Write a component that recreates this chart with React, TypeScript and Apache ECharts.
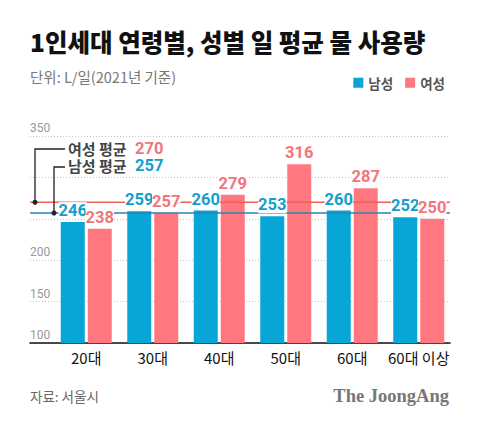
import React, { useEffect, useRef } from "react";
import * as echarts from "echarts";

const categories = ["20대", "30대", "40대", "50대", "60대", "60대 이상"];
const maleValues = [246, 259, 260, 253, 260, 252];
const femaleValues = [238, 257, 279, 316, 287, 250];
const maleAvg = 257;
const femaleAvg = 270;
const yMin = 100;
const yMax = 350;
const yInterval = 50;
const hiddenTickLabels = [250, 300];

const BLUE = "#07a6d6";
const PINK = "#ff7880";
const BLUE_TEXT = "#139fcc";
const PINK_TEXT = "#f2757d";
const RED_LINE = "#f0605a";
const BLUE_LINE = "#2a84ad";
const FONT = "Roboto, 'Noto Sans CJK KR', sans-serif";
const KFONT = "'Noto Sans CJK KR', Roboto, sans-serif";

export default function App() {
  const ref = useRef<HTMLDivElement>(null);
  useEffect(() => {
    if (!ref.current) return;
    const chart = echarts.init(ref.current, null, { renderer: "svg" });
    const labelCommon = {
      show: true,
      position: "top",
      distance: 3,
      fontFamily: FONT,
      fontWeight: "bold",
      fontSize: 16.5,
      lineHeight: 17,
      backgroundColor: "#fff",
      padding: [0, 0, 0, 0],
    };
    const option: any = {
      animation: false,
      backgroundColor: "#fff",
      legend: {
        data: ["남성", "여성"],
        right: 30,
        top: 71,
        icon: "rect",
        itemWidth: 10,
        itemHeight: 10,
        itemGap: 12,
        textStyle: { fontFamily: KFONT, fontSize: 13.5, fontWeight: "bold", color: "#555" },
        selectedMode: false,
      },
      grid: [
        { left: 53, right: 28, top: 136, bottom: 82 },
        { left: 30, right: 30, top: 136, bottom: 82 },
      ],
      xAxis: [
        {
          type: "category",
          data: categories,
          gridIndex: 0,
          axisLine: { show: false },
          axisTick: { show: false },
          axisLabel: { interval: 0, color: "#111", fontSize: 15, fontFamily: KFONT, margin: 7 },
        },
        {
          type: "category",
          data: categories,
          gridIndex: 0,
          show: false,
        },
        {
          type: "value",
          gridIndex: 1,
          min: 0,
          max: 1,
          axisLine: { show: true, onZero: false, lineStyle: { color: "#111", width: 1.5 } },
          axisTick: { show: false },
          axisLabel: { show: false },
          splitLine: { show: false },
        },
      ],
      yAxis: [
        { type: "value", gridIndex: 0, min: yMin, max: yMax, interval: yInterval, show: false },
        {
          type: "value",
          gridIndex: 1,
          min: yMin,
          max: yMax,
          interval: yInterval,
          axisLine: { show: false },
          axisTick: { show: false },
          axisLabel: {
            inside: true,
            margin: 0,
            color: "#999",
            fontSize: 12,
            fontFamily: FONT,
            verticalAlign: "bottom",
            padding: [0, 0, 2, 0],
            formatter: (v: number) => (hiddenTickLabels.indexOf(v) >= 0 ? "" : String(v)),
          },
          splitLine: { show: true, lineStyle: { color: "#c4c4c4", type: [1, 2], width: 1 } },
        },
      ],
      series: [
        {
          name: "남성",
          type: "bar",
          xAxisIndex: 0,
          yAxisIndex: 0,
          data: maleValues,
          barWidth: 24,
          barGap: "12.5%",
          itemStyle: { color: BLUE },
          z: 2,
          silent: true,
        },
        {
          name: "여성",
          type: "bar",
          xAxisIndex: 0,
          yAxisIndex: 0,
          data: femaleValues,
          barWidth: 24,
          barGap: "12.5%",
          itemStyle: { color: PINK },
          z: 2,
          silent: true,
        },
        {
          name: "여성 평균",
          type: "line",
          xAxisIndex: 2,
          yAxisIndex: 1,
          data: [[0, femaleAvg], [1, femaleAvg]],
          symbol: "none",
          lineStyle: { color: RED_LINE, width: 1.5 },
          z: 3,
          silent: true,
        },
        {
          name: "남성 평균",
          type: "line",
          xAxisIndex: 2,
          yAxisIndex: 1,
          data: [[0, maleAvg], [1, maleAvg]],
          symbol: "none",
          lineStyle: { color: BLUE_LINE, width: 1.5 },
          z: 3,
          silent: true,
        },
        {
          name: "남성 라벨",
          type: "bar",
          xAxisIndex: 1,
          yAxisIndex: 0,
          data: maleValues,
          barWidth: 24,
          barGap: "12.5%",
          itemStyle: { color: "rgba(0,0,0,0)" },
          label: { ...labelCommon, color: BLUE_TEXT },
          z: 5,
          silent: true,
        },
        {
          name: "여성 라벨",
          type: "bar",
          xAxisIndex: 1,
          yAxisIndex: 0,
          data: femaleValues,
          barWidth: 24,
          barGap: "12.5%",
          itemStyle: { color: "rgba(0,0,0,0)" },
          label: { ...labelCommon, color: PINK_TEXT },
          z: 5,
          silent: true,
        },
      ],
    };
    chart.setOption(option);

    const yF = chart.convertToPixel({ yAxisIndex: 1 }, femaleAvg) as number;
    const yM = chart.convertToPixel({ yAxisIndex: 1 }, maleAvg) as number;
    const x0 = chart.convertToPixel({ xAxisIndex: 2 }, 0) as number;
    const redDotX = x0 + 5;
    const blueDotX = x0 + 24;
    const calloutF = 149;
    const calloutM = 167;
    const lineEndX = 65;
    const txtX = 68;
    const numX = 135;
    const labelStyle = {
      fontFamily: KFONT,
      fontWeight: "bold",
      fontSize: 15,
      lineHeight: 15,
      fill: "#444",
      verticalAlign: "middle",
    };
    const numStyle = {
      fontFamily: FONT,
      fontWeight: "bold",
      fontSize: 16.5,
      lineHeight: 15,
      verticalAlign: "middle",
    };
    chart.setOption({
      graphic: [
        {
          type: "text",
          left: 30,
          top: 29,
          style: {
            text: "1인세대 연령별, 성별 일 평균 물 사용량",
            fontFamily: KFONT,
            fontWeight: 900,
            fontSize: 24.5,
            fill: "#111",
          },
        },
        {
          type: "text",
          left: 30,
          top: 69,
          style: {
            text: "단위: L/일(2021년 기준)",
            fontFamily: KFONT,
            fontSize: 14.5,
            fill: "#777",
          },
        },
        {
          type: "polyline",
          shape: { points: [[redDotX, yF], [redDotX, calloutF], [lineEndX, calloutF]] },
          style: { stroke: "#222", lineWidth: 1.3, fill: null },
          z: 6,
        },
        {
          type: "polyline",
          shape: { points: [[blueDotX, yM], [blueDotX, calloutM], [lineEndX, calloutM]] },
          style: { stroke: "#222", lineWidth: 1.3, fill: null },
          z: 6,
        },
        { type: "circle", shape: { cx: redDotX, cy: yF, r: 2.5 }, style: { fill: "#222" }, z: 6 },
        { type: "circle", shape: { cx: blueDotX, cy: yM, r: 2.5 }, style: { fill: "#222" }, z: 6 },
        { type: "text", x: txtX, y: 148.5, z: 6, style: { ...labelStyle, text: "여성 평균" } },
        { type: "text", x: numX, y: 148.5, z: 6, style: { ...numStyle, text: String(femaleAvg), fill: PINK_TEXT } },
        { type: "text", x: txtX, y: 165.5, z: 6, style: { ...labelStyle, text: "남성 평균" } },
        { type: "text", x: numX, y: 165.5, z: 6, style: { ...numStyle, text: String(maleAvg), fill: BLUE_TEXT } },
        {
          type: "text",
          left: 30,
          top: 389,
          style: { text: "자료: 서울시", fontFamily: KFONT, fontSize: 13.5, fill: "#666" },
        },
        {
          type: "text",
          right: 31,
          top: 386,
          style: {
            text: "The JoongAng",
            fontFamily: "'Liberation Serif', 'DejaVu Serif', serif",
            fontWeight: "bold",
            fontSize: 18.5,
            fill: "#777",
          },
        },
      ],
    });
    return () => chart.dispose();
  }, []);
  return (
    <div
      ref={ref}
      style={{ position: "absolute", left: 0, top: 0, width: 480, height: 425 }}
    />
  );
}
